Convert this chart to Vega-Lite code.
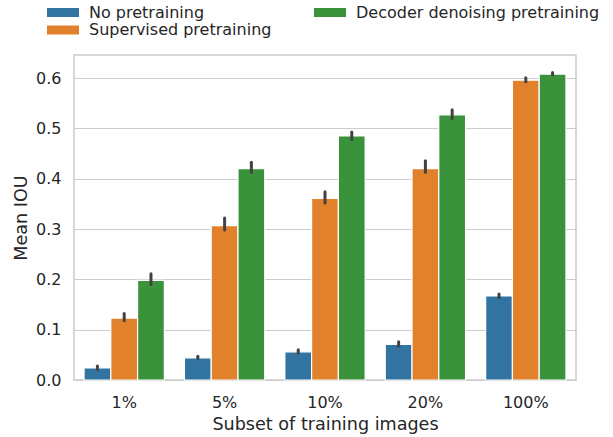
{
  "$schema": "https://vega.github.io/schema/vega-lite/v6.json",
  "width": 502,
  "height": 325,
  "autosize": {"type": "none"},
  "padding": {"left": 74, "top": 55, "right": 37, "bottom": 57},
  "background": "white",
  "config": {
    "font": "DejaVu Sans",
    "view": {"stroke": "#cccccc", "strokeWidth": 1.5},
    "axis": {"labelFont": "DejaVu Sans", "titleFont": "DejaVu Sans", "labelColor": "#262626", "titleColor": "#262626", "labelFontSize": 16, "titleFontSize": 17.6, "titleFontWeight": "normal", "domain": false, "ticks": false}
  },
  "data": {
    "values": [
      {"subset": "1%", "method": "No pretraining", "iou": 0.024, "lo": 0.021, "hi": 0.028},
      {"subset": "1%", "method": "Supervised pretraining", "iou": 0.123, "lo": 0.118, "hi": 0.132},
      {"subset": "1%", "method": "Decoder denoising pretraining", "iou": 0.198, "lo": 0.19, "hi": 0.211},
      {"subset": "5%", "method": "No pretraining", "iou": 0.044, "lo": 0.042, "hi": 0.047},
      {"subset": "5%", "method": "Supervised pretraining", "iou": 0.307, "lo": 0.298, "hi": 0.322},
      {"subset": "5%", "method": "Decoder denoising pretraining", "iou": 0.420, "lo": 0.413, "hi": 0.433},
      {"subset": "10%", "method": "No pretraining", "iou": 0.056, "lo": 0.053, "hi": 0.06},
      {"subset": "10%", "method": "Supervised pretraining", "iou": 0.361, "lo": 0.352, "hi": 0.374},
      {"subset": "10%", "method": "Decoder denoising pretraining", "iou": 0.485, "lo": 0.478, "hi": 0.493},
      {"subset": "20%", "method": "No pretraining", "iou": 0.071, "lo": 0.067, "hi": 0.076},
      {"subset": "20%", "method": "Supervised pretraining", "iou": 0.420, "lo": 0.413, "hi": 0.436},
      {"subset": "20%", "method": "Decoder denoising pretraining", "iou": 0.527, "lo": 0.52, "hi": 0.537},
      {"subset": "100%", "method": "No pretraining", "iou": 0.167, "lo": 0.164, "hi": 0.171},
      {"subset": "100%", "method": "Supervised pretraining", "iou": 0.596, "lo": 0.593, "hi": 0.601},
      {"subset": "100%", "method": "Decoder denoising pretraining", "iou": 0.608, "lo": 0.606, "hi": 0.611}
    ]
  },
  "encoding": {
    "x": {"field": "subset", "type": "nominal", "sort": ["1%", "5%", "10%", "20%", "100%"],
      "scale": {"paddingInner": 0.2, "paddingOuter": 0.1},
      "axis": {"title": "Subset of training images", "labelAngle": 0, "labelPadding": 14, "titlePadding": 5, "grid": false}},
    "xOffset": {"field": "method", "type": "nominal", "sort": ["No pretraining", "Supervised pretraining", "Decoder denoising pretraining"], "scale": {"paddingInner": 0, "paddingOuter": 0}}
  },
  "layer": [
    {
      "mark": {"type": "bar", "stroke": "white", "strokeWidth": 1.2},
      "encoding": {
        "y": {"field": "iou", "type": "quantitative", "scale": {"domain": [0, 0.646], "nice": false},
          "axis": {"title": "Mean IOU", "values": [0, 0.1, 0.2, 0.3, 0.4, 0.5, 0.6], "format": ".1f", "labelPadding": 13, "titlePadding": 5, "gridColor": "#cccccc", "gridWidth": 1.2}},
        "color": {"field": "method", "type": "nominal",
          "scale": {"domain": ["No pretraining", "Supervised pretraining", "Decoder denoising pretraining"], "range": ["#3274a1", "#e1812c", "#3a923a"]},
          "legend": {"title": null, "orient": "none", "legendX": -19, "legendY": -50.5, "padding": 0, "columns": 2, "columnPadding": 42, "rowPadding": 1.5, "labelFontSize": 16, "labelLimit": 400, "labelColor": "#262626", "symbolType": "M-3.2,-0.9H3.2V0.9H-3.2Z", "symbolSize": 100, "symbolStrokeWidth": 0, "symbolOpacity": 1, "labelOffset": 18}}
      }
    },
    {
      "mark": {"type": "rule", "color": "#424242", "strokeWidth": 3, "strokeCap": "round"},
      "encoding": {
        "y": {"field": "lo", "type": "quantitative"},
        "y2": {"field": "hi"}
      }
    }
  ]
}
